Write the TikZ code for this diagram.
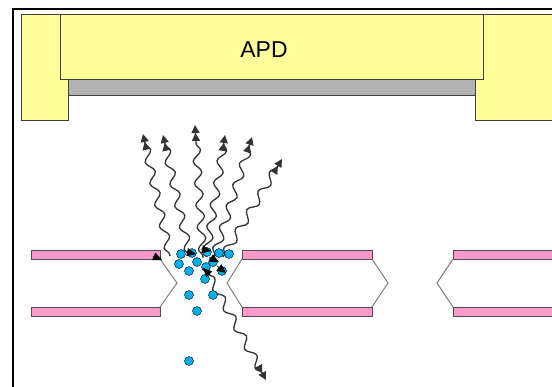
\documentclass[tikz,border=0pt]{standalone}
\usepackage{fontspec}
\setmainfont{Liberation Sans}
\usetikzlibrary{arrows.meta,decorations.pathmorphing,positioning}
\definecolor{apdyellow}{RGB}{255,255,153}
\definecolor{apdgray}{RGB}{178,178,178}
\definecolor{fiberpink}{RGB}{255,153,204}
\definecolor{ionblue}{RGB}{0,176,240}
\tikzstyle{apdbox}=[
  draw=black!75,fill=apdyellow,line width=0.8pt
]
\tikzstyle{fiber}=[
  draw=black!70,fill=fiberpink,line width=1pt
]
\tikzstyle{taper}=[
  draw=black!50,line width=1pt
]
\tikzstyle{ion}=[
  draw=black,fill=ionblue,circle,inner sep=0pt,minimum size=9pt,line width=0.4pt
]
\tikzstyle{photon}=[
  black!80,line width=1.3pt,decorate,
  decoration={snake,segment length=22pt,amplitude=4pt,pre length=2pt,post length=8pt},
  -{Triangle[length=8pt,width=8pt]Triangle[length=8pt,width=8pt]}
]
\tikzstyle{kick}=[
  black,line width=0.6pt,-{Triangle[length=9pt,width=8pt]}
]

\begin{document}
\begin{tikzpicture}[x=1pt,y=-1pt]
  \useasboundingbox (0,0) rectangle (552,386);
  \clip (0,0) rectangle (552,386);
  \fill[white] (0,0) rectangle (552,386);
  \draw[line width=2pt] (12.5,8.5) rectangle (600,420);

  % detector and its mount
  \draw[apdbox] (21,14) rectangle (68,120);
  \draw[apdbox] (475,14) rectangle (570,120);
  \draw[draw=black!75,fill=apdgray,line width=0.8pt] (68,79) rectangle (475,95);
  \draw[apdbox] (60,14) rectangle (483,79);
  \node (apd) [font=\fontsize{23}{23}\selectfont] at (264,50) {APD};

  % trap electrodes
  \draw[fiber] (31,250) rectangle (160,259);
  \draw[fiber] (31,307) rectangle (160,316);
  \draw[taper] (160,259) -- (177,283) -- (160,307);
  \draw[fiber] (242,250) rectangle (372,259);
  \draw[fiber] (242,307) rectangle (372,316);
  \draw[taper] (242,259) -- (227,283) -- (242,307);
  \draw[taper] (372,259) -- (388,283) -- (372,307);
  \draw[fiber] (453,250) rectangle (570,259);
  \draw[fiber] (453,307) rectangle (570,316);
  \draw[taper] (453,259) -- (437,283) -- (453,307);

  % emitted photons
  \coordinate (p1) at (170,256); \coordinate (t1) at (143,134);
  \coordinate (p2) at (190,257); \coordinate (t2) at (163,135);
  \coordinate (p3) at (203,258); \coordinate (t3) at (195,125);
  \coordinate (p4) at (206,257); \coordinate (t4) at (225,135);
  \coordinate (p5) at (214,257); \coordinate (t5) at (252,137);
  \coordinate (p6) at (223,257); \coordinate (t6) at (282,159);
  \coordinate (p7) at (207,272); \coordinate (t7) at (266,380);
  \foreach \i in {1,...,7}
    \draw[photon] (p\i) -- (t\i);

  % ion cloud
  \foreach \n/\x/\y in {1/181/254,2/192/253,3/207/252,4/219/253,5/229/254,
      6/179/264,7/197/262,8/206/267,9/213/262,10/189/271,11/222/271,
      12/205/279,13/189/295,14/213/295,15/197/311,16/189/361}
    \node (i\n) [ion] at (\x,\y) {};

  % recoil kicks
  \coordinate (k1) at (153,256); \coordinate (h1) at (162,260);
  \coordinate (k2) at (186,252); \coordinate (h2) at (196,254);
  \coordinate (k3) at (201,249); \coordinate (h3) at (211,251);
  \coordinate (k4) at (209,257); \coordinate (h4) at (219,262);
  \coordinate (k5) at (217,266); \coordinate (h5) at (226,273);
  \coordinate (k6) at (211,276); \coordinate (h6) at (203,268);
  \foreach \i in {1,...,6}
    \draw[kick] (k\i) -- (h\i);
\end{tikzpicture}
\end{document}
